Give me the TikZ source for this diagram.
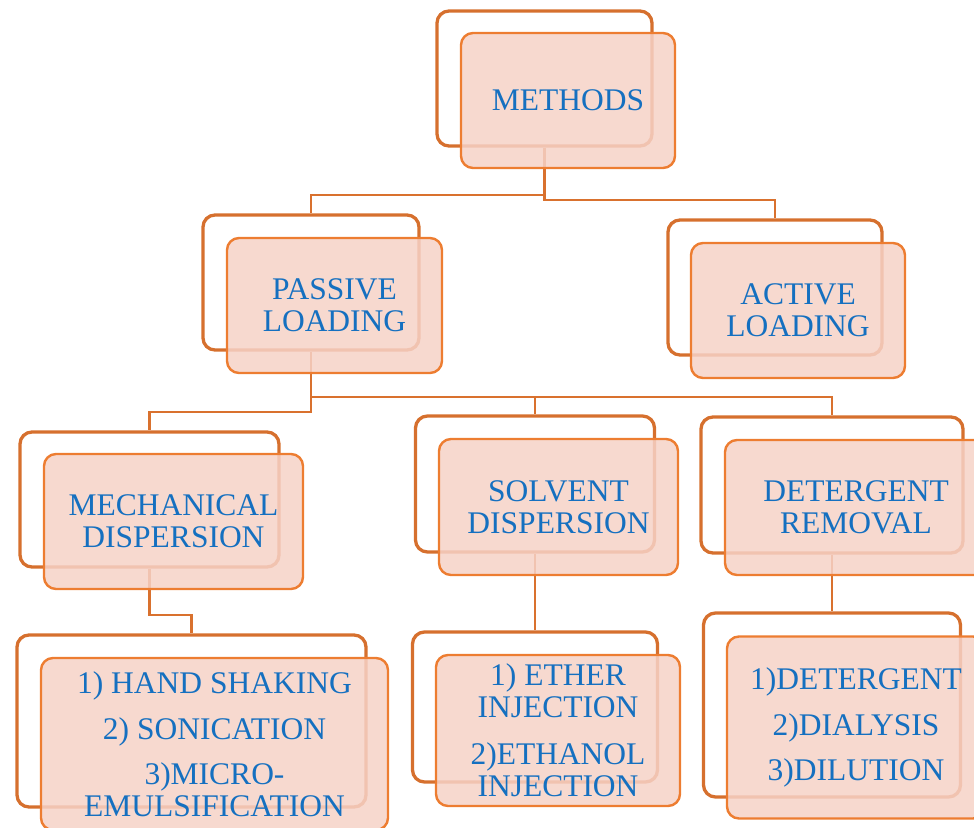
\documentclass[tikz,border=0pt]{standalone}
\usepackage{fontspec}
\setmainfont{Liberation Serif}
\definecolor{backc}{RGB}{214,112,46}
\definecolor{frontc}{RGB}{237,125,49}
\definecolor{fillc}{RGB}{246,210,199}
\definecolor{connc}{RGB}{217,113,46}
\definecolor{txtc}{RGB}{21,112,192}
\begin{document}
\begin{tikzpicture}[x=1pt,y=-1pt,
  backbox/.style={draw=backc, line width=3.3pt, rounded corners=12pt, inner sep=0pt},
  frontbox/.style={draw=frontc, line width=2.4pt, rounded corners=12pt, fill=fillc,
    fill opacity=0.85, text opacity=1, text=txtc, align=center, inner sep=0pt,
    font=\fontsize{31.5}{32}\selectfont},
  conn/.style={draw=connc, line width=2.9pt}]
\useasboundingbox (0,0) rectangle (974,827);

% back frames
\node[backbox, minimum width=215pt, minimum height=135pt] (mB) at (544.5,78.5) {};
\node[backbox, minimum width=216pt, minimum height=135pt] (pB) at (311,282.5) {};
\node[backbox, minimum width=214pt, minimum height=135pt] (aB) at (775,287.5) {};
\node[backbox, minimum width=259pt, minimum height=135pt] (mdB) at (149.5,499.5) {};
\node[backbox, minimum width=239pt, minimum height=136pt] (sdB) at (535,484) {};
\node[backbox, minimum width=262pt, minimum height=136pt] (drB) at (832,485) {};
\node[backbox, minimum width=349pt, minimum height=172pt] (hB) at (191.5,721) {};
\node[backbox, minimum width=245pt, minimum height=150pt] (eB) at (535,707) {};
\node[backbox, minimum width=257pt, minimum height=184pt] (dB) at (832,705) {};

% connectors
\draw[conn] (mB.south) -- (mB.south |- 0,195) -| (pB.north);
\draw[conn] (mB.south) -- (mB.south |- 0,200) -| (aB.north);
\draw[conn] (pB.south) -- (pB.south |- 0,412) -| (mdB.north);
\draw[conn] (pB.south) -- (pB.south |- 0,397) -| (sdB.north);
\draw[conn] (pB.south) -- (pB.south |- 0,397) -| (drB.north);
\draw[conn] (mdB.south) -- (mdB.south |- 0,615) -| (hB.north);
\draw[conn] (sdB.south) -- (eB.north);
\draw[conn] (drB.south) -- (dB.north);

% front boxes
\node[frontbox, minimum width=214pt, minimum height=135pt] (m) at (568,100.5) {METHODS};
\node[frontbox, minimum width=215pt, minimum height=135pt] (p) at (334.5,305.5) {PASSIVE\\LOADING};
\node[frontbox, minimum width=214pt, minimum height=135pt] (a) at (798,310.5) {ACTIVE\\LOADING};
\node[frontbox, minimum width=259pt, minimum height=135pt] (md) at (173.5,521.5) {MECHANICAL\\DISPERSION};
\node[frontbox, minimum width=239pt, minimum height=136pt] (sd) at (558.5,507) {SOLVENT\\DISPERSION};
\node[frontbox, minimum width=262pt, minimum height=135pt] (dr) at (856,507.5) {DETERGENT\\REMOVAL};
\node[frontbox, minimum width=347pt, minimum height=172pt] (h) at (214.5,744) {1) HAND SHAKING\\[14pt]2) SONICATION\\[13pt]3)MICRO-\\EMULSIFICATION};
\node[frontbox, minimum width=244pt, minimum height=151pt] (e) at (558,730.5) {1) ETHER\\INJECTION\\[15pt]2)ETHANOL\\INJECTION};
\node[frontbox, minimum width=258pt, minimum height=182pt] (d) at (856,727.5) {1)DETERGENT\\[14pt]2)DIALYSIS\\[13pt]3)DILUTION};
\end{tikzpicture}
\end{document}
